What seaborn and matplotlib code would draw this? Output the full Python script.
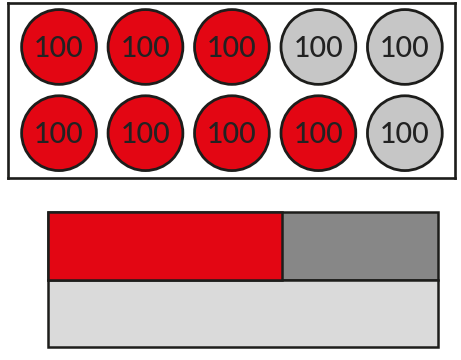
import pandas as pd
import matplotlib.pyplot as plt
import seaborn as sns

# counters: 2 rows x 5 columns, each worth 100
counter_value = "100"
row1 = ["red", "red", "red", "grey", "grey"]
row2 = ["red", "red", "red", "red", "grey"]

# bar model
bar_rows = ["top", "bottom"]
bar_totals = [1.0, 1.0]
shaded_part = 0.6

RED = "#E30613"
GREY = "#C6C6C6"
DARK = "#878787"
LIGHT = "#DADADA"
EDGE = "#1D1D1B"

recs = []
for r, row in enumerate([row1, row2]):
    for c, state in enumerate(row):
        recs.append({"col": c, "row": r, "state": state})
df = pd.DataFrame(recs)

sns.set_style("white")
plt.rcParams["font.family"] = ["Lato", "DejaVu Sans"]

fig = plt.figure(figsize=(4.61, 3.6), dpi=100)

# ---- counters ----
ax1 = fig.add_axes([8 / 461, 1 - 178 / 360, 447 / 461, 175 / 360])
sns.scatterplot(data=df, x="col", y="row", hue="state",
                palette={"red": RED, "grey": GREY}, s=2900,
                edgecolor=EDGE, linewidth=2.0, legend=False, ax=ax1, zorder=3)
for _, p in df.iterrows():
    ax1.text(p["col"], p["row"] + 0.02, counter_value, ha="center", va="center",
             fontsize=20.5, fontweight="medium", color="#222222", zorder=4)
ax1.set_xlim(-0.59, 4.58)
ax1.set_ylim(1.52, -0.51)
ax1.set_xticks([])
ax1.set_yticks([])
ax1.set_xlabel("")
ax1.set_ylabel("")
for sp in ax1.spines.values():
    sp.set_visible(True)
    sp.set_color(EDGE)
    sp.set_linewidth(1.9)

# ---- bar model ----
ax2 = fig.add_axes([48 / 461, 1 - 347 / 360, 390 / 461, 135 / 360])
sns.barplot(x=bar_totals, y=bar_rows, order=bar_rows, hue=bar_rows,
            palette={"top": DARK, "bottom": LIGHT}, width=1.0, saturation=1,
            edgecolor=EDGE, linewidth=1.8, legend=False, ax=ax2)
sns.barplot(x=[shaded_part], y=["top"], order=bar_rows, color=RED, width=1.0,
            saturation=1, edgecolor=EDGE, linewidth=1.8, ax=ax2)
for patch in ax2.patches:
    patch.set_clip_on(False)
ax2.set_xlim(0, 1)
ax2.set_ylim(1.5, -0.5)
ax2.set_xticks([])
ax2.set_yticks([])
ax2.set_xlabel("")
ax2.set_ylabel("")
for sp in ax2.spines.values():
    sp.set_visible(False)

fig.savefig("out.png", dpi=100)
